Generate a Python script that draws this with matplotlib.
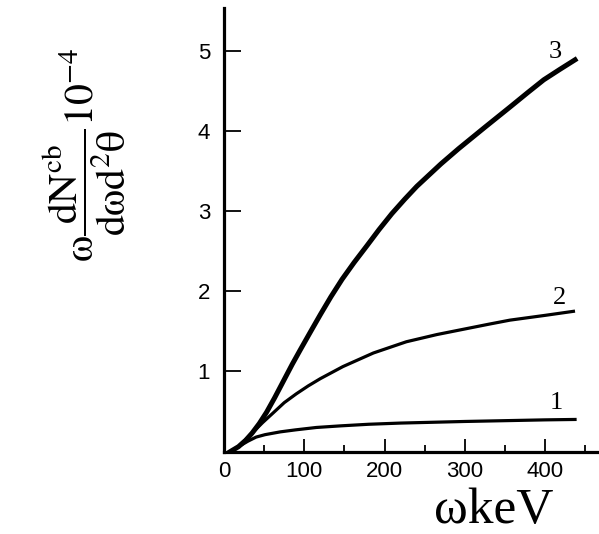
import matplotlib
matplotlib.use("Agg")
import matplotlib.pyplot as plt
from matplotlib.ticker import MultipleLocator

# Data (x in keV, y in units of 1e-4)
x1 = [8, 18, 30, 40, 51, 70, 89, 115, 145, 180, 220, 260, 300, 350, 400, 437]
y1 = [0, 0.06, 0.13, 0.18, 0.21, 0.245, 0.27, 0.30, 0.32, 0.34, 0.355, 0.365, 0.375, 0.385, 0.395, 0.40]

x2 = [8, 18, 35, 48, 61, 75, 90, 105, 120, 148, 186, 227, 265, 300, 330, 356, 400, 435]
y2 = [0, 0.06, 0.23, 0.36, 0.48, 0.61, 0.72, 0.82, 0.91, 1.06, 1.23, 1.37, 1.46, 1.53, 1.59, 1.64, 1.70, 1.75]

x3 = [8, 18, 27, 35, 44, 53, 63, 74, 85, 95, 108, 120, 133, 147, 162, 178, 193, 209,
      225, 240, 270, 292, 325, 356, 378, 398, 418, 437]
y3 = [0, 0.06, 0.14, 0.23, 0.35, 0.49, 0.67, 0.88, 1.09, 1.27, 1.50, 1.71, 1.93, 2.15, 2.36, 2.57,
      2.77, 2.97, 3.15, 3.31, 3.59, 3.78, 4.05, 4.30, 4.48, 4.64, 4.77, 4.89]

curve_labels = ["1", "2", "3"]
label_x = [414, 418, 412]
label_y = [0.61, 1.92, 4.99]

xticks = [0, 100, 200, 300, 400]
yticks = [1, 2, 3, 4, 5]

fig = plt.figure(figsize=(5.99, 5.34), dpi=100)
ax = fig.add_axes([224 / 599, 1 - 451.5 / 534, 1 - 224 / 599, (451.5 - 8) / 534])

ax.plot(x1, y1, color="black", lw=2.3, solid_joinstyle="round")
ax.plot(x2, y2, color="black", lw=2.3, solid_joinstyle="round")
ax.plot(x3, y3, color="black", lw=3.6, solid_joinstyle="round")

for t, lx, ly in zip(curve_labels, label_x, label_y):
    ax.text(lx, ly, t, fontsize=19, family="Liberation Serif",
            ha="center", va="center")

ax.set_xlim(0, (599 - 224) / 0.8033)
ax.set_ylim(0, (451.5 - 8) / 80.1)

for s in ["top", "right"]:
    ax.spines[s].set_visible(False)
for s in ["left", "bottom"]:
    ax.spines[s].set_linewidth(2.3)

ax.set_xticks(xticks)
ax.set_yticks(yticks)
ax.xaxis.set_minor_locator(MultipleLocator(50))
ax.tick_params(axis="x", which="major", direction="in", length=9.5, width=1.3,
               pad=7, labelsize=16)
ax.tick_params(axis="x", which="minor", direction="in", length=5, width=1.3)
ax.tick_params(axis="y", which="major", direction="in", length=12.5, width=1.3,
               pad=10, labelsize=16)
for lab in ax.get_xticklabels() + ax.get_yticklabels():
    lab.set_family("Liberation Sans")

plt.rcParams["mathtext.fontset"] = "stix"
fig.text(84 / 599, 1 - 155 / 534,
         r"$\mathrm{\omega}\dfrac{\mathrm{dN}^{\mathrm{cb}}}{\mathrm{d\omega d}^{2}\mathrm{\theta}}10^{-4}$",
         rotation=90, fontsize=30, ha="center", va="center")

fig.text(494 / 599, 0.0, "ωkeV", fontsize=37,
         family="Liberation Serif", ha="center", va="bottom")

fig.savefig("out.png", dpi=100)
